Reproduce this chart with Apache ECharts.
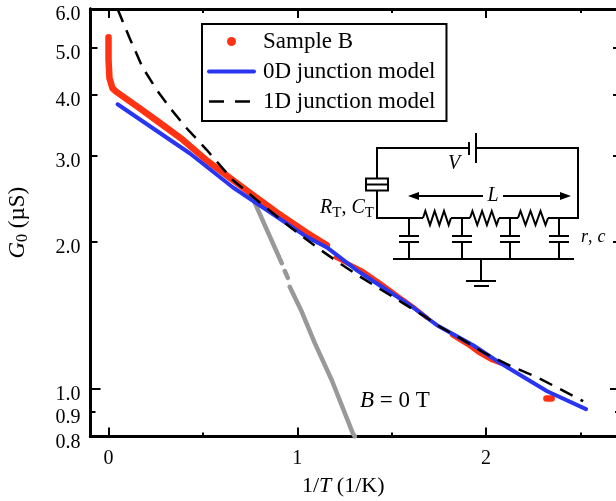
<!DOCTYPE html>
<html>
<head>
<meta charset="utf-8">
<title>G0 vs 1/T</title>
<style>
  html, body { margin: 0; padding: 0; background: #fff; }
  #chart { width: 616px; height: 501px; }
</style>
<script src="https://cdn.jsdelivr.net/npm/echarts@6/dist/echarts.min.js"></script>
</head>
<body>
<div id="chart"></div>
<script>
// values, [1/T, G0]; null = gap in the trace
const sampleBThick = [
  [0, 5.25], [0, 4.72], [0.005, 4.33], [0.021, 4.13], [0.042, 4.06], [0.164, 3.76],
  [0.271, 3.51], [0.393, 3.24], [0.52, 2.94], [0.658, 2.68], [0.764, 2.5], [0.891, 2.3],
  [1.05, 2.09], [1.157, 1.97], null,
  [2.32, 0.957], [2.348, 0.957]
];
const sampleBThin = [
  [1.204, 1.86], [1.241, 1.83], [1.347, 1.745], [1.438, 1.65], [1.544, 1.54], [1.623, 1.465],
  [1.687, 1.4], null,
  [1.82, 1.29], [1.915, 1.225], [1.958, 1.19], [2.032, 1.146], [2.074, 1.13]
];
const zeroField = [
  [0.764, 2.46], [0.918, 1.81], null, [0.934, 1.745], [0.95, 1.69], null,
  [0.96, 1.62], [1.024, 1.44], [1.093, 1.242], [1.183, 1.043], [1.294, 0.813], [1.305, 0.8]
];
const model0D = [
  [0.048, 3.83], [0.43, 3.04], [0.658, 2.59], [1.05, 2.05], [1.157, 1.95], [1.316, 1.75],
  [1.438, 1.63], [1.597, 1.486], [1.687, 1.4], [1.74, 1.352], [1.932, 1.23], [2.06, 1.141],
  [2.324, 0.99], [2.53, 0.91]
];
const model1D = [
  [0.048, 6.0], [0.111, 5.24], [0.18, 4.56], [0.255, 4.1], [0.334, 3.73], [0.414, 3.42],
  [0.52, 3.09], [0.658, 2.68], [0.785, 2.44], [0.96, 2.15], [1.109, 1.945], [1.225, 1.81],
  [1.332, 1.7], [1.56, 1.5], [1.687, 1.4], [1.74, 1.352], [1.863, 1.272], [1.985, 1.19],
  [2.144, 1.109], [2.271, 1.058], [2.393, 1.0], [2.515, 0.945]
];
const xMajorTicks = [0, 1, 2];
const xMinorTicks = [0.5, 1.5, 2.5];
const yDecadeTicks = [1];
const yMajorTicks = [2, 3, 4, 5];
const yMinorTicks = [0.9];
const yLabelTicks = [0.8, 0.9, 1, 2, 3, 4, 5, 6];

const serif = '"Liberation Serif", serif';
const black = '#000';
const red = '#ff3213';
const blue = '#2a35f0';
const gray = '#999999';

const chart = echarts.init(document.getElementById('chart'), null, { renderer: 'canvas' });

function xAxis(position, ticks, len, showLabel) {
  return {
    type: 'value', position, min: -0.0955, max: 2.71, splitLine: { show: false },
    axisLine: { show: true, onZero: false, lineStyle: { color: black, width: 3 } },
    axisTick: { show: true, inside: true, length: len, customValues: ticks, lineStyle: { color: black, width: 2 } },
    axisLabel: { show: showLabel, customValues: xMajorTicks, margin: 12, color: black, fontFamily: serif, fontSize: 20 }
  };
}
function yAxis(position, ticks, len, showLabel) {
  return {
    type: 'log', logBase: 10, position, min: 0.8, max: 6, splitLine: { show: false }, minorTick: { show: false },
    axisLine: { show: true, onZero: false, lineStyle: { color: black, width: 3 } },
    axisTick: { show: true, inside: true, length: len, customValues: ticks, lineStyle: { color: black, width: 2 } },
    axisLabel: {
      show: showLabel, customValues: yLabelTicks, margin: 10, color: black, fontFamily: serif, fontSize: 20,
      // labels sit a little below their ticks in the original
      verticalAlign: 'top', lineHeight: 12, showMinLabel: true, showMaxLabel: true,
      formatter: (v) => Number(v).toFixed(1)
    }
  };
}

function line(x1, y1, x2, y2, w) {
  return { type: 'line', shape: { x1, y1, x2, y2 }, style: { stroke: black, lineWidth: w || 2 }, silent: true };
}
function poly(points, w) {
  return { type: 'polyline', shape: { points }, style: { stroke: black, fill: null, lineWidth: w || 2 }, silent: true };
}
function label(x, y, text, rich, align) {
  return {
    type: 'text', x, y, silent: true,
    style: { text, rich, fill: black, font: '20px ' + serif, align: align || 'left', verticalAlign: 'middle' }
  };
}
function zigzag(x0, x1, y) {
  const step = (x1 - x0) / 6;
  const pts = [[x0, y]];
  for (let i = 0; i < 6; i++) pts.push([x0 + step * (i + 0.5), i % 2 ? y + 7 : y - 7]);
  pts.push([x1, y]);
  return poly(pts);
}
function richFor(size, subSize) {
  return {
    i: { fontFamily: serif, fontStyle: 'italic', fontSize: size, fill: black, color: black },
    n: { fontFamily: serif, fontSize: size, fill: black, color: black },
    sub: { fontFamily: serif, fontSize: subSize, fill: black, color: black, verticalAlign: 'bottom', padding: [10, 0, 0, 0] }
  };
}

const circuitNodes = [409, 462, 510, 559];
const circuit = [
  // battery loop
  poly([[377, 178], [377, 148], [469, 148]]),
  poly([[476, 148], [578, 148], [578, 218], [548, 218]]),
  line(469, 142, 469, 155), line(476, 133, 476, 163),
  // tunnel junction
  { type: 'rect', shape: { x: 366, y: 178.5, width: 22, height: 12 }, style: { fill: '#fff', stroke: black, lineWidth: 2 }, silent: true },
  line(366, 184.5, 388, 184.5),
  poly([[377, 191], [377, 218], [423, 218]]),
  // resistors
  zigzag(423, 451, 218), line(451, 218, 470, 218),
  zigzag(470, 499, 218), line(499, 218, 518, 218),
  zigzag(518, 548, 218),
  // ground rail
  line(393, 259, 574, 259),
  line(481, 259, 481, 281), line(466, 281, 496, 281), line(474, 286, 489, 286),
  // L arrows
  line(414, 196, 483, 196), line(503, 196, 565, 196),
  { type: 'polygon', shape: { points: [[408, 196], [419, 192], [419, 200]] }, style: { fill: black }, silent: true },
  { type: 'polygon', shape: { points: [[571, 196], [560, 192], [560, 200]] }, style: { fill: black }, silent: true },
  // text
  label(493, 196, '{i|L}', richFor(20, 14), 'center'),
  label(454, 164, '{i|V}', richFor(20, 14), 'center'),
  label(320, 208, '{i|R}{sub|T}{n|,} {i|C}{sub|T}', richFor(20, 15)),
  label(581, 237, '{i|r}{n|,} {i|c}', richFor(18, 14)),
  label(360, 401, '{i|B}{n| = 0 T}', richFor(23, 16))
];
circuitNodes.forEach((x) => {
  circuit.push(line(x, 218, x, 236), line(x - 10, 236, x + 10, 236), line(x - 10, 242, x + 10, 242), line(x, 242, x, 259));
});

// line icon only in the legend, the series symbol stays hidden
const noSymbol = { color: 'transparent', borderColor: 'transparent', opacity: 0 };

chart.setOption({
  backgroundColor: '#fff',
  animation: false,
  grid: { left: 90.5, top: 9, width: 529.5, height: 427.5, containLabel: false, outerBoundsMode: 'none' },
  legend: {
    show: true, orient: 'vertical', left: 202, top: 24, padding: [6, 11, 8, 5], itemGap: 7,
    itemWidth: 45, itemHeight: 22, borderColor: black, borderWidth: 2,
    textStyle: { color: black, fontFamily: serif, fontSize: 23, padding: [0, 0, 0, 4] },
    data: [
      { name: 'Sample B', icon: 'path://M0 0L0 0M44 22L44 22M17.5 11a4.5 4.5 0 1 0 9 0a4.5 4.5 0 1 0 -9 0z' },
      { name: '0D junction model', itemStyle: noSymbol, lineStyle: { color: blue, width: 4 } },
      { name: '1D junction model', itemStyle: noSymbol, lineStyle: { color: black, width: 2.5, type: [15, 11] } }
    ]
  },
  xAxis: [
    Object.assign(xAxis('bottom', xMajorTicks, 9, true), {
      name: '{n|1/}{i|T}{n| (1/K)}', nameLocation: 'middle', nameGap: 39,
      nameTextStyle: { rich: richFor(22, 16), color: black, padding: [0, 24, 0, 0] }
    }),
    xAxis('bottom', xMinorTicks, 4, false),
    xAxis('top', xMajorTicks, 9, false),
    xAxis('top', xMinorTicks, 4, false)
  ],
  yAxis: [
    Object.assign(yAxis('left', yDecadeTicks, 10, true), {
      name: '{i|G}{sub|0}{n| (µS)}', nameLocation: 'middle', nameGap: 60, nameRotate: 90,
      nameTextStyle: { rich: richFor(23, 16), color: black }
    }),
    yAxis('left', yMajorTicks, 7, false),
    yAxis('left', yMinorTicks, 5, false),
    yAxis('right', yDecadeTicks, 10, false),
    yAxis('right', yMajorTicks, 7, false),
    yAxis('right', yMinorTicks, 5, false)
  ],
  graphic: { elements: circuit },
  series: [
    {
      name: 'B = 0 T', type: 'line', data: zeroField, connectNulls: false, symbol: 'none',
      lineStyle: { color: gray, width: 4.5, cap: 'round' }, itemStyle: { color: gray }, silent: true
    },
    {
      name: 'Sample B', type: 'line', data: sampleBThick, connectNulls: false, symbol: 'none',
      lineStyle: { color: red, width: 6.5, cap: 'round', join: 'round' }, itemStyle: { color: red }, silent: true
    },
    {
      name: 'Sample B', type: 'line', data: sampleBThin, connectNulls: false, symbol: 'none',
      lineStyle: { color: red, width: 4.5, cap: 'round', join: 'round' }, itemStyle: { color: red }, silent: true
    },
    {
      name: '0D junction model', type: 'line', data: model0D, symbol: 'none',
      lineStyle: { color: blue, width: 4, cap: 'round' }, itemStyle: { color: blue }, silent: true
    },
    {
      name: '1D junction model', type: 'line', data: model1D, symbol: 'none',
      lineStyle: { color: black, width: 2.5, type: [14, 9] }, itemStyle: { color: black }, silent: true
    }
  ]
});
</script>
</body>
</html>
